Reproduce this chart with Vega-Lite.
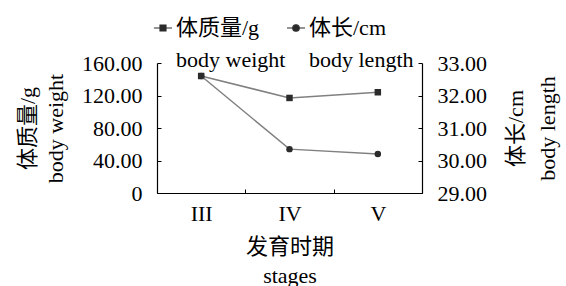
{
  "$schema": "https://vega.github.io/schema/vega-lite/v6.json",
  "autosize": {"type": "none"},
  "width": 265,
  "height": 130,
  "padding": {"left": 157, "top": 63, "right": 144, "bottom": 93},
  "config": {
    "font": "Liberation Serif, Noto Sans CJK SC",
    "view": {"stroke": null},
    "style": {"guide-label": {"lineHeight": 32}},
    "axis": {
      "grid": false,
      "labelFont": "Liberation Serif, Noto Sans CJK SC",
      "titleFont": "Liberation Serif, Noto Sans CJK SC",
      "labelFontSize": 22,
      "titleFontSize": 22,
      "titleFontWeight": "normal",
      "labelColor": "#000",
      "titleColor": "#000",
      "domainColor": "#000",
      "tickColor": "#000",
      "domainWidth": 1.2,
      "tickWidth": 1
    },
    "legend": {
      "orient": "none",
      "direction": "horizontal",
      "title": null,
      "padding": 0,
      "labelFont": "Liberation Serif, Noto Sans CJK SC",
      "labelFontSize": 22,
      "labelColor": "#000",
      "labelOffset": 2,
      "symbolSize": 324,
      "symbolFillColor": "#2b2b2b",
      "symbolStrokeColor": "#2b2b2b",
      "symbolStrokeWidth": 1.2,
      "labelLimit": 300
    }
  },
  "data": {
    "values": [
      {"stage": "III", "series": "体质量/g", "value": 144},
      {"stage": "IV", "series": "体质量/g", "value": 117},
      {"stage": "V", "series": "体质量/g", "value": 124},
      {"stage": "III", "series": "体长/cm", "value": 32.6},
      {"stage": "IV", "series": "体长/cm", "value": 30.35},
      {"stage": "V", "series": "体长/cm", "value": 30.2}
    ]
  },
  "encoding": {
    "x": {
      "field": "stage",
      "type": "ordinal",
      "sort": ["III", "IV", "V"],
      "scale": {"type": "band", "paddingInner": 0, "paddingOuter": 0},
      "axis": {
        "title": ["发育时期", "stages"],
        "titleLineHeight": 29,
        "titlePadding": 12,
        "labelAngle": 0,
        "tickBand": "extent",
        "tickSize": -4,
        "labelPadding": 14
      }
    }
  },
  "layer": [
    {
      "transform": [{"filter": "datum.series === '体质量/g'"}],
      "encoding": {
        "y": {
          "field": "value",
          "type": "quantitative",
          "scale": {"domain": [0, 160]},
          "axis": {
            "orient": "left",
            "values": [0, 40, 80, 120, 160],
            "labelExpr": "datum.value === 0 ? '0' : format(datum.value, '.2f')",
            "title": ["体质量/g", "body weight"],
            "titleLineHeight": 28,
            "titlePadding": 14,
            "tickSize": -4,
            "labelPadding": 19
          }
        }
      },
      "layer": [
        {"mark": {"type": "line", "color": "#808080", "strokeWidth": 1.5}},
        {
          "mark": {"type": "point", "shape": "square", "filled": true, "opacity": 1, "size": 42},
          "encoding": {
            "color": {
              "field": "series",
              "type": "nominal",
              "scale": {"domain": ["体质量/g"], "range": ["#2b2b2b"]},
              "legend": {
                "legendX": -5,
                "legendY": -46,
                "symbolType": "M-1,0H1M-0.33,-0.33H0.33V0.33H-0.33Z",
                "labelExpr": "['体质量/g', 'body weight']"
              }
            }
          }
        }
      ]
    },
    {
      "transform": [{"filter": "datum.series === '体长/cm'"}],
      "encoding": {
        "y": {
          "field": "value",
          "type": "quantitative",
          "scale": {"domain": [29, 33]},
          "axis": {
            "orient": "right",
            "values": [29, 30, 31, 32, 33],
            "format": ".2f",
            "title": ["体长/cm", "body length"],
            "titleAngle": -90,
            "titleBaseline": "top",
            "titleLineHeight": 32,
            "titlePadding": -13,
            "tickSize": -4,
            "labelPadding": 19
          }
        }
      },
      "layer": [
        {"mark": {"type": "line", "color": "#808080", "strokeWidth": 1.5}},
        {
          "mark": {"type": "point", "shape": "circle", "filled": true, "opacity": 1, "size": 42},
          "encoding": {
            "color": {
              "field": "series",
              "type": "nominal",
              "scale": {"domain": ["体长/cm"], "range": ["#2b2b2b"]},
              "legend": {
                "legendX": 128,
                "legendY": -46,
                "symbolType": "M-1,0H1M0.36,0A0.36,0.36,0,1,1,-0.36,0A0.36,0.36,0,1,1,0.36,0Z",
                "labelExpr": "['体长/cm', 'body length']"
              }
            }
          }
        }
      ]
    }
  ],
  "resolve": {"scale": {"y": "independent", "color": "independent"}}
}
